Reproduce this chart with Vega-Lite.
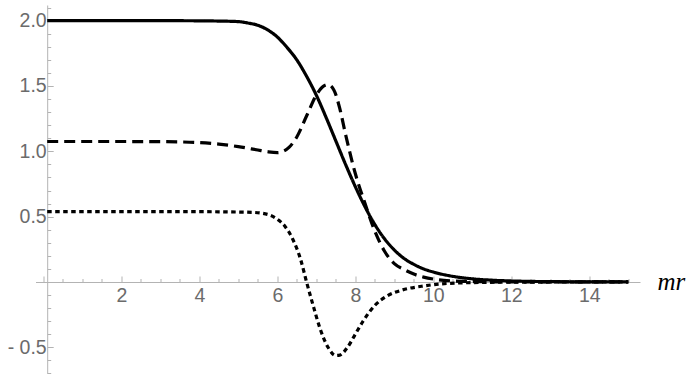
{
  "$schema": "https://vega.github.io/schema/vega-lite/v6.json",
  "width": 604.5,
  "height": 368.4,
  "autosize": {"type": "none"},
  "padding": {"left": 35.5, "top": 5, "right": 50, "bottom": 4.6},
  "background": "white",
  "config": {"view": {"stroke": null}},
  "data": {"values": [
    {"x":0.1,"y":2.0,"s":"a"},{"x":1,"y":2.0,"s":"a"},{"x":2,"y":2.0,"s":"a"},{"x":3,"y":2.0,"s":"a"},{"x":4,"y":1.999,"s":"a"},{"x":4.5,"y":1.997,"s":"a"},{"x":5,"y":1.993,"s":"a"},{"x":5.25,"y":1.982,"s":"a"},{"x":5.5,"y":1.965,"s":"a"},{"x":5.75,"y":1.93,"s":"a"},{"x":6,"y":1.875,"s":"a"},{"x":6.25,"y":1.795,"s":"a"},{"x":6.5,"y":1.70,"s":"a"},{"x":6.75,"y":1.575,"s":"a"},{"x":7,"y":1.43,"s":"a"},{"x":7.25,"y":1.26,"s":"a"},{"x":7.5,"y":1.08,"s":"a"},{"x":7.75,"y":0.90,"s":"a"},{"x":8,"y":0.73,"s":"a"},{"x":8.25,"y":0.575,"s":"a"},{"x":8.5,"y":0.44,"s":"a"},{"x":8.75,"y":0.33,"s":"a"},{"x":9,"y":0.245,"s":"a"},{"x":9.25,"y":0.18,"s":"a"},{"x":9.5,"y":0.135,"s":"a"},{"x":9.75,"y":0.10,"s":"a"},{"x":10,"y":0.076,"s":"a"},{"x":10.5,"y":0.043,"s":"a"},{"x":11,"y":0.024,"s":"a"},{"x":11.5,"y":0.0135,"s":"a"},{"x":12,"y":0.0076,"s":"a"},{"x":13,"y":0.0024,"s":"a"},{"x":14,"y":0.0008,"s":"a"},{"x":15,"y":0.0002,"s":"a"},
    {"x":0.1,"y":1.075,"s":"b"},{"x":1,"y":1.075,"s":"b"},{"x":2,"y":1.075,"s":"b"},{"x":3,"y":1.074,"s":"b"},{"x":3.5,"y":1.072,"s":"b"},{"x":4,"y":1.067,"s":"b"},{"x":4.5,"y":1.055,"s":"b"},{"x":5,"y":1.036,"s":"b"},{"x":5.5,"y":1.01,"s":"b"},{"x":5.75,"y":0.997,"s":"b"},{"x":6,"y":0.99,"s":"b"},{"x":6.15,"y":1.0,"s":"b"},{"x":6.3,"y":1.03,"s":"b"},{"x":6.5,"y":1.11,"s":"b"},{"x":6.75,"y":1.27,"s":"b"},{"x":7,"y":1.43,"s":"b"},{"x":7.15,"y":1.49,"s":"b"},{"x":7.3,"y":1.51,"s":"b"},{"x":7.45,"y":1.47,"s":"b"},{"x":7.6,"y":1.33,"s":"b"},{"x":7.75,"y":1.13,"s":"b"},{"x":8,"y":0.83,"s":"b"},{"x":8.25,"y":0.60,"s":"b"},{"x":8.5,"y":0.39,"s":"b"},{"x":8.75,"y":0.235,"s":"b"},{"x":9,"y":0.14,"s":"b"},{"x":9.25,"y":0.095,"s":"b"},{"x":9.5,"y":0.06,"s":"b"},{"x":9.75,"y":0.037,"s":"b"},{"x":10,"y":0.022,"s":"b"},{"x":10.5,"y":0.008,"s":"b"},{"x":11,"y":0.003,"s":"b"},{"x":12,"y":0.0005,"s":"b"},{"x":13,"y":0.0001,"s":"b"},{"x":15,"y":0.0,"s":"b"},
    {"x":0.1,"y":0.538,"s":"c"},{"x":1,"y":0.538,"s":"c"},{"x":2,"y":0.538,"s":"c"},{"x":3,"y":0.538,"s":"c"},{"x":4,"y":0.538,"s":"c"},{"x":4.5,"y":0.537,"s":"c"},{"x":5,"y":0.535,"s":"c"},{"x":5.4,"y":0.532,"s":"c"},{"x":5.8,"y":0.513,"s":"c"},{"x":6,"y":0.48,"s":"c"},{"x":6.2,"y":0.425,"s":"c"},{"x":6.4,"y":0.325,"s":"c"},{"x":6.6,"y":0.17,"s":"c"},{"x":6.75,"y":0.0,"s":"c"},{"x":6.9,"y":-0.16,"s":"c"},{"x":7.1,"y":-0.36,"s":"c"},{"x":7.3,"y":-0.50,"s":"c"},{"x":7.5,"y":-0.563,"s":"c"},{"x":7.6,"y":-0.56,"s":"c"},{"x":7.8,"y":-0.50,"s":"c"},{"x":8,"y":-0.40,"s":"c"},{"x":8.2,"y":-0.30,"s":"c"},{"x":8.5,"y":-0.18,"s":"c"},{"x":8.8,"y":-0.11,"s":"c"},{"x":9.2,"y":-0.062,"s":"c"},{"x":9.7,"y":-0.033,"s":"c"},{"x":10.2,"y":-0.015,"s":"c"},{"x":11,"y":-0.005,"s":"c"},{"x":12,"y":-0.0015,"s":"c"},{"x":13,"y":-0.0005,"s":"c"},{"x":15,"y":0.0,"s":"c"}
  ]},
  "mark": {"type": "line", "interpolate": "monotone", "strokeWidth": 3.2, "color": "black"},
  "encoding": {
    "x": {
      "field": "x", "type": "quantitative",
      "scale": {"domain": [-0.2, 15.3], "nice": false, "zero": false},
      "axis": {
        "offset": -91.4,
        "values": [0,0.5,1,1.5,2,2.5,3,3.5,4,4.5,5,5.5,6,6.5,7,7.5,8,8.5,9,9.5,10,10.5,11,11.5,12,12.5,13,13.5,14,14.5,15],
        "labelExpr": "(datum.value % 2 == 0 && datum.value > 0) ? toString(datum.value) : ''",
        "grid": false,
        "domainColor": "#b3b3b3",
        "tickColor": "#b3b3b3",
        "tickSize": {"condition": {"test": "datum.value % 2 == 0", "value": -6}, "value": -3.5},
        "labelPadding": 10,
        "labelFont": "Liberation Sans",
        "labelFontSize": 19.5,
        "labelColor": "#6b6b6b",
        "labelFlush": false,
        "labelOverlap": false,
        "title": "mr",
        "titleFont": "Liberation Serif",
        "titleFontStyle": "italic",
        "titleFontWeight": "normal",
        "titleFontSize": 25,
        "titleColor": "black",
        "titleX": 621.5,
        "titleY": 7.5,
        "titleAlign": "left",
        "titleBaseline": "alphabetic"
      }
    },
    "y": {
      "field": "y", "type": "quantitative",
      "scale": {"domain": [-0.7, 2.12], "nice": false, "zero": false},
      "axis": {
        "offset": -11.7,
        "values": [-0.7,-0.6,-0.5,-0.4,-0.3,-0.2,-0.1,0,0.1,0.2,0.3,0.4,0.5,0.6,0.7,0.8,0.9,1.0,1.1,1.2,1.3,1.4,1.5,1.6,1.7,1.8,1.9,2.0,2.1],
        "labelExpr": "(abs(datum.value*2 - round(datum.value*2)) < 0.001 && abs(datum.value) > 0.001) ? (datum.value < 0 ? '-  ' + format(-datum.value, '.1f') : format(datum.value, '.1f')) : ''",
        "grid": false,
        "domainColor": "#b3b3b3",
        "tickColor": "#b3b3b3",
        "tickSize": {"condition": {"test": "abs(datum.value*2 - round(datum.value*2)) < 0.001", "value": -6}, "value": -3.5},
        "labelPadding": 7,
        "labelFont": "Liberation Sans",
        "labelFontSize": 19.5,
        "labelColor": "#6b6b6b",
        "labelFlush": false,
        "labelOverlap": false,
        "title": null
      }
    },
    "strokeDash": {
      "field": "s", "type": "nominal",
      "scale": {"domain": ["a","b","c"], "range": [[1,0],[11,6],[4.5,3.5]]},
      "legend": null
    }
  }
}
